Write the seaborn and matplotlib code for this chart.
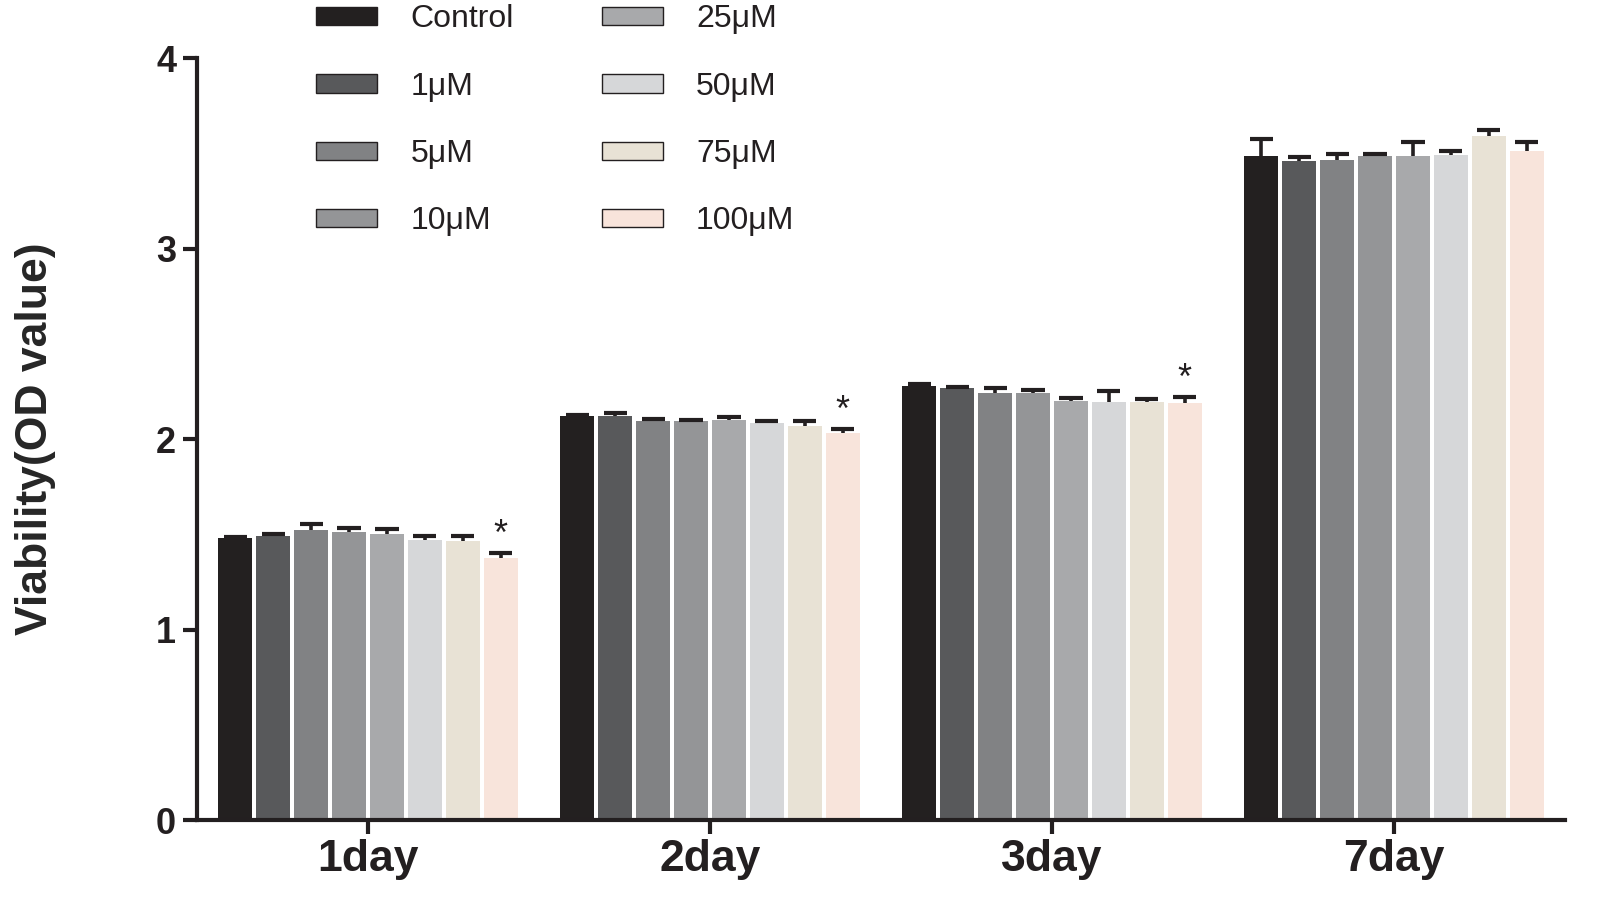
import matplotlib
matplotlib.use("Agg")
import matplotlib.pyplot as plt
import seaborn as sns
import pandas as pd
import numpy as np

days = ["1day", "2day", "3day", "7day"]
groups = ["Control", "1μM", "5μM", "10μM", "25μM", "50μM", "75μM", "100μM"]

mean_control = [1.48, 2.12, 2.28, 3.485]
mean_1uM = [1.492, 2.12, 2.268, 3.46]
mean_5uM = [1.524, 2.094, 2.243, 3.464]
mean_10uM = [1.513, 2.094, 2.243, 3.483]
mean_25uM = [1.499, 2.101, 2.201, 3.485]
mean_50uM = [1.471, 2.085, 2.196, 3.49]
mean_75uM = [1.464, 2.068, 2.196, 3.59]
mean_100uM = [1.375, 2.033, 2.19, 3.51]

err_control = [0.005, 0.007, 0.007, 0.09]
err_1uM = [0.01, 0.018, 0.003, 0.02]
err_5uM = [0.03, 0.01, 0.026, 0.03]
err_10uM = [0.02, 0.007, 0.012, 0.012]
err_25uM = [0.026, 0.014, 0.012, 0.075]
err_50uM = [0.02, 0.01, 0.056, 0.023]
err_75uM = [0.026, 0.028, 0.012, 0.03]
err_100uM = [0.026, 0.018, 0.03, 0.05]

significant_100uM = [True, True, True, False]

colors = ["#231f20", "#58595b", "#808285", "#939598", "#a7a9ac",
          "#d6d7d9", "#ebe3d2", "#fde2d6"]

means = [mean_control, mean_1uM, mean_5uM, mean_10uM, mean_25uM,
         mean_50uM, mean_75uM, mean_100uM]
errs = [err_control, err_1uM, err_5uM, err_10uM, err_25uM,
        err_50uM, err_75uM, err_100uM]

rows = []
for g, m in zip(groups, means):
    for d, v in zip(days, m):
        rows.append({"day": d, "group": g, "value": v})
df = pd.DataFrame(rows)

sns.set_style("ticks")
plt.rcParams["font.family"] = ["Liberation Sans", "DejaVu Sans"]

fig = plt.figure(figsize=(16.19, 9.19), dpi=100)
ax = fig.add_axes([197 / 1619, 1 - 820 / 919, (1565 - 197) / 1619, (820 - 58) / 919])

sns.barplot(data=df, x="day", y="value", hue="group", order=days,
            hue_order=groups, palette=colors, errorbar=None,
            width=0.886, gap=0.1, linewidth=0, ax=ax, legend=True)

bar_containers = list(ax.containers)
for i, cont in enumerate(bar_containers):
    xs = np.array([b.get_x() + b.get_width() / 2 for b in cont])
    hs = np.array([b.get_height() for b in cont])
    e = np.array(errs[i])
    capw = 0.034
    ax.vlines(xs, hs, hs + e, color="#231f20", linewidth=2.6, zorder=5)
    ax.hlines(hs + e, xs - capw, xs + capw, color="#231f20", linewidth=3,
              zorder=5)
    if i == len(groups) - 1:
        for x, h, ee, s in zip(xs, hs, e, significant_100uM):
            if s:
                ax.text(x, h + ee + 0.002, "*", ha="center", va="bottom",
                        fontsize=26, color="#231f20")

ax.set_ylim(0, 4)
ax.set_xlim(-0.5, 3.5)
ax.set_yticks([0, 1, 2, 3, 4])
ax.set_xlabel("")
ax.set_ylabel("Viability(OD value)", fontsize=32, fontweight="bold", labelpad=72)
for s in ["top", "right"]:
    ax.spines[s].set_visible(False)
for s in ["left", "bottom"]:
    ax.spines[s].set_linewidth(3)
    ax.spines[s].set_color("#231f20")
ax.tick_params(axis="both", width=3, length=10, color="#231f20")
ax.tick_params(axis="y", labelsize=26, pad=5)
ax.tick_params(axis="x", labelsize=32, pad=4)
for lab in ax.get_xticklabels() + ax.get_yticklabels():
    lab.set_fontweight("bold")
    lab.set_color("#231f20")

handles, labels = ax.get_legend_handles_labels()
ax.get_legend().remove()
for h in handles:
    h.set_edgecolor("#231f20")
    h.set_linewidth(1.0)
leg = fig.legend(handles, labels, ncol=2, loc="upper left",
                 bbox_to_anchor=(294 / 1619, 1 + 18 / 919), frameon=False,
                 fontsize=23, handlelength=1.9, handleheight=0.5,
                 handletextpad=1.05, labelspacing=1.17, columnspacing=2.75,
                 borderpad=0.2)
for t in leg.get_texts():
    t.set_color("#231f20")

fig.savefig("out.png", dpi=100)
